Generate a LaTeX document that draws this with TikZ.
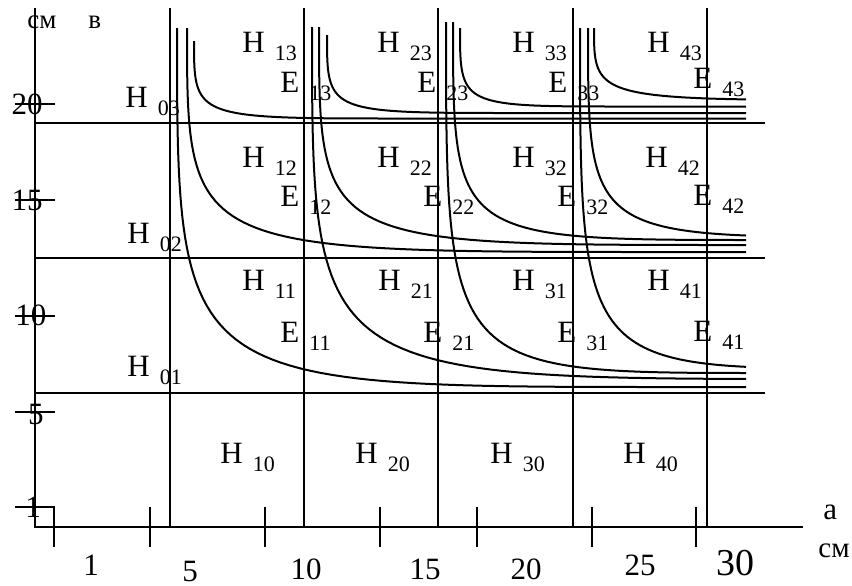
\documentclass[tikz,border=0pt]{standalone}
\usepackage{fontspec}
\setmainfont{Liberation Serif}
\usetikzlibrary{positioning}

% letter with a lowered index, as "H 13"
\newcommand{\idx}[2]{#1\hspace{5pt}\raisebox{-4pt}{\fontsize{11}{13}\selectfont #2}}

% level curve: top (x0,y0), tail level, spread; tail runs out to x = 746
\newcommand{\hypcurve}[4]{%
  \pgfmathsetmacro\tEnd{min(1,((746-#1)/#4)^(1/3))}
  \pgfmathsetmacro\yEnd{#3-(#3-#2)*(1-\tEnd)*(1-\tEnd)*(1-\tEnd)}
  \draw[curve] plot[domain=0:\tEnd, samples=60, variable=\t]
    ({#1+#4*\t*\t*\t}, {#3-(#3-#2)*(1-\t)*(1-\t)*(1-\t)}) -- (746,\yEnd);
}

\begin{document}
\begin{tikzpicture}[
  x=0.5pt, y=-0.5pt,
  axis/.style  = {line width=1pt, black},
  grid/.style  = {line width=1pt, black},
  curve/.style = {line width=1pt, black},
  lbl/.style   = {anchor=base west, inner sep=0pt,
                  font=\fontsize{15.5}{18}\selectfont},
  num/.style   = {inner sep=0pt, font=\fontsize{15.5}{18}\selectfont},
  unit/.style  = {anchor=base west, inner sep=0pt,
                  font=\fontsize{13.5}{16}\selectfont},
]
\useasboundingbox (0,0) rectangle (852,585);

%% ── Axes and ticks ───────────────────────────────────────────────────────
\draw[axis] (35,8) -- (35,527) -- (803,527);
\foreach \y in {104,200,316,412}
  \draw[axis] (15,\y) -- (55,\y);
\draw[axis] (15,507) -- (54,507) -- (54,547);
\foreach \x in {150,265,380,477,592,696}
  \draw[axis] (\x,507) -- (\x,547);

%% ── Grid of the table ────────────────────────────────────────────────────
\foreach \x in {170,304,438,573,707}
  \draw[grid] (\x,8) -- (\x,527);
\foreach \y in {123,258,393}
  \draw[grid] (35,\y) -- (765,\y);

%% ── Level curves, row 1 ──────────────────────────────────────────────────
\hypcurve{177}{28}{387}{500}
\hypcurve{312}{27}{379}{520}
\hypcurve{446}{22}{373}{320}
\hypcurve{580}{28}{368.5}{290}

%% ── Level curves, row 2 ──────────────────────────────────────────────────
\hypcurve{187}{28}{252}{480}
\hypcurve{319}{27}{245}{420}
\hypcurve{453}{22}{240}{310}
\hypcurve{588}{28}{237}{300}

%% ── Level curves, row 3 ──────────────────────────────────────────────────
\hypcurve{194}{41}{118.5}{210}
\hypcurve{327}{35}{113}{190}
\hypcurve{460}{28}{106.5}{165}
\hypcurve{594}{28}{100}{300}

%% ── Cell labels H ────────────────────────────────────────────────────────
\node[lbl] (h13) at (242,52)  {\idx{H}{13}};
\node[lbl] (h23) at (377,52)  {\idx{H}{23}};
\node[lbl] (h33) at (512,52)  {\idx{H}{33}};
\node[lbl] (h43) at (647,52)  {\idx{H}{43}};
\node[lbl] (h12) at (242,167) {\idx{H}{12}};
\node[lbl] (h22) at (377,167) {\idx{H}{22}};
\node[lbl] (h32) at (512,167) {\idx{H}{32}};
\node[lbl] (h42) at (645,167) {\idx{H}{42}};
\node[lbl] (h11) at (242,290) {\idx{H}{11}};
\node[lbl] (h21) at (378,290) {\idx{H}{21}};
\node[lbl] (h31) at (512,290) {\idx{H}{31}};
\node[lbl] (h41) at (647,290) {\idx{H}{41}};
\node[lbl] (h10) at (220,463) {\idx{H}{10}};
\node[lbl] (h20) at (355,463) {\idx{H}{20}};
\node[lbl] (h30) at (490,463) {\idx{H}{30}};
\node[lbl] (h40) at (623,463) {\idx{H}{40}};
\node[lbl] (h03) at (125,107) {\idx{H}{03}};
\node[lbl] (h02) at (127,243) {\idx{H}{02}};
\node[lbl] (h01) at (127,376) {\idx{H}{01}};

%% ── Curve labels E ───────────────────────────────────────────────────────
\node[lbl] (e13) at (280,92)  {\idx{E}{13}};
\node[lbl] (e23) at (417,92)  {\idx{E}{23}};
\node[lbl] (e33) at (548,92)  {\idx{E}{33}};
\node[lbl] (e43) at (693,88)  {\idx{E}{43}};
\node[lbl] (e12) at (280,206) {\idx{E}{12}};
\node[lbl] (e22) at (423,206) {\idx{E}{22}};
\node[lbl] (e32) at (557,206) {\idx{E}{32}};
\node[lbl] (e42) at (693,205) {\idx{E}{42}};
\node[lbl] (e11) at (280,342) {\idx{E}{11}};
\node[lbl] (e21) at (423,342) {\idx{E}{21}};
\node[lbl] (e31) at (557,342) {\idx{E}{31}};
\node[lbl] (e41) at (693,341) {\idx{E}{41}};

%% ── Scale numbers ────────────────────────────────────────────────────────
\node[num] (y20) at (27,104) {20};
\node[num] (y15) at (27,200) {15};
\node[num] (y10) at (31,315) {10};
\node[num] (y5)  at (36,414) {5};
\node[num] (y1)  at (33,507) {1};
\node[num] (x1)  at (91,565)  {1};
\node[num] (x5)  at (190,571) {5};
\node[num] (x10) at (306,569) {10};
\node[num] (x15) at (425,569) {15};
\node[num] (x20) at (526,569) {20};
\node[num] (x25) at (640,565) {25};
\node[num, font=\fontsize{19}{22}\selectfont] (x30) at (735,563) {30};

%% ── Axis names ───────────────────────────────────────────────────────────
\node[unit] (ycm) at (27,28) {см};
\node[unit] (yb)  at (88,28) {в};
\node[unit, font=\fontsize{15.5}{18}\selectfont] (xa)  at (823,519) {a};
\node[unit, font=\fontsize{14.5}{17}\selectfont] (xcm) at (818,557) {см};

\end{tikzpicture}
\end{document}
